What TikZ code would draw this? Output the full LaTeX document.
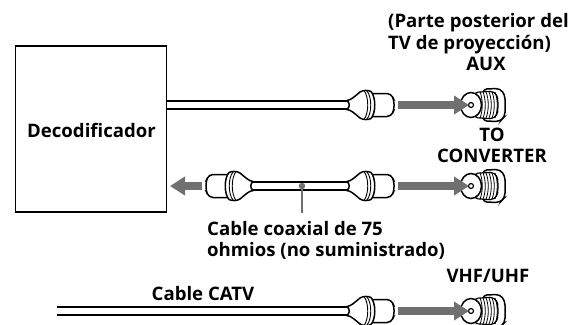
\documentclass[tikz,border=0pt]{standalone}
\usepackage{fontspec}
\setmainfont{Open Sans}
\usetikzlibrary{arrows.meta, positioning, calc}
\definecolor{flowgray}{HTML}{707070}

\tikzset{
  plug/.pic={
    \draw[line width=1.5pt, fill=white, rounded corners=4pt]
      (20,-11.5) -- (43,-11.5) -- (46,-5) -- (46,5) -- (43,11.5) -- (20,11.5) -- cycle;
    \draw[line width=1.5pt, fill=white]
      (-1,-4.5) .. controls (3,-5) and (6,-8) .. (12,-13)
      .. controls (15,-15) and (20,-15) .. (23,-13.5)
      .. controls (28,-8) and (28,8) .. (23,13.5)
      .. controls (20,15) and (15,15) .. (12,13)
      .. controls (6,8) and (3,5) .. (-1,4.5)
      .. controls (2,2) and (2,-2) .. (-1,-4.5);
    \draw[line width=.9pt] (19,-14) .. controls (24,-8) and (24,8) .. (19,14);
    \draw[line width=.9pt] (16,-14.5) .. controls (21,-8) and (21,8) .. (16,14.5);
  },
  jack/.pic={
    \draw[line width=1.5pt, fill=white, rounded corners=4pt]
      (14,-16) -- (31,-16.5) -- (36,-10) -- (36,11) -- (31,16.5) -- (14,16) -- cycle;
    \draw[line width=1.2pt, fill=white, rounded corners=5pt]
      (4,-12.5) -- (26,-14) -- (29,-6) -- (29,6) -- (26,14) -- (4,12.5) -- cycle;
    \foreach \tx in {11,14,17,20,23,26} {
      \draw[line width=.8pt] (\tx,-13) .. controls (\tx+3,-6) and (\tx+3,6) .. (\tx,13);
    }
    \draw[line width=1.5pt, fill=white] (2,0) ellipse (10.5 and 12.5);
    \draw[line width=1.2pt, fill=white] (2,0) circle (2.5);
  }
}

\begin{document}
\begin{tikzpicture}[
  x=1pt, y=-1pt,
  label/.style={font=\bfseries\fontsize{18.6}{18.6}\selectfont, inner sep=0pt, text=black},
  decoder/.style={
    rectangle, draw=black, line width=1.6pt, fill=white,
    minimum width=151pt, minimum height=166pt, inner sep=0pt
  },
  coax/.style={line width=1.5pt, double=white, double distance=6.8pt},
  flow/.style={
    -{Triangle[length=15pt, width=18pt]}, line width=8pt, flowgray
  },
  leader/.style={line width=2.4pt, flowgray}
]
  \useasboundingbox (0,0) rectangle (588,324);

  \node[decoder] (deco) at (91,129) {};
  \node[label, anchor=base] (decotext) at (91.5,137) {Decodificador};

  \coordinate (cableAin) at (167,105);
  \coordinate (cableAend) at (348,105);
  \coordinate (cableBin) at (252,186);
  \coordinate (cableBend) at (348,186);
  \coordinate (cableCin) at (57,311);
  \coordinate (cableCend) at (348,311);

  \draw[coax] (cableAin) -- (cableAend);
  \draw[coax] (cableBin) -- (cableBend);
  \draw[coax] (cableCin) -- (cableCend);

  \pic at (cableAend) {plug};
  \pic at (cableBend) {plug};
  \pic[xscale=-1] at (cableBin) {plug};
  \pic at (cableCend) {plug};

  \coordinate (jackA) at (469,105);
  \coordinate (jackB) at (469,186);
  \coordinate (jackC) at (469,311);
  \pic at (jackA) {jack};
  \pic at (jackB) {jack};
  \pic at (jackC) {jack};

  \coordinate (flowA) at (398,105);
  \coordinate (flowB) at (398,186);
  \coordinate (flowC) at (398,311);
  \coordinate (flowD) at (202,186);
  \coordinate (flowDend) at (170,186);
  \draw[flow] (flowA) -- (jackA);
  \draw[flow] (flowB) -- (jackB);
  \draw[flow] (flowC) -- (jackC);
  \draw[flow] (flowD) -- (flowDend);

  \coordinate (coaxdot) at (302,186);
  \coordinate (coaxfoot) at (302,213);
  \fill[flowgray] (coaxdot) circle (3.2);
  \draw[leader] (coaxdot) -- (coaxfoot);

  \node[label, anchor=base west] (posterior) at (388,27) {(Parte posterior del};
  \node[label, anchor=base west] (proyeccion) at (388,49) {TV de proyección)};
  \node[label, anchor=base] (aux) at (486,70) {AUX};
  \node[label, anchor=base] (to) at (492,141) {TO};
  \node[label, anchor=base] (converter) at (492,162) {CONVERTER};
  \node[label, anchor=base west] (coaxa) at (207,235) {Cable coaxial de 75};
  \node[label, anchor=base west] (coaxb) at (207,256) {ohmios (no suministrado)};
  \node[label, anchor=base] (vhf) at (488,282) {VHF/UHF};
  \node[label, anchor=base] (catv) at (203,300) {Cable CATV};
\end{tikzpicture}
\end{document}
